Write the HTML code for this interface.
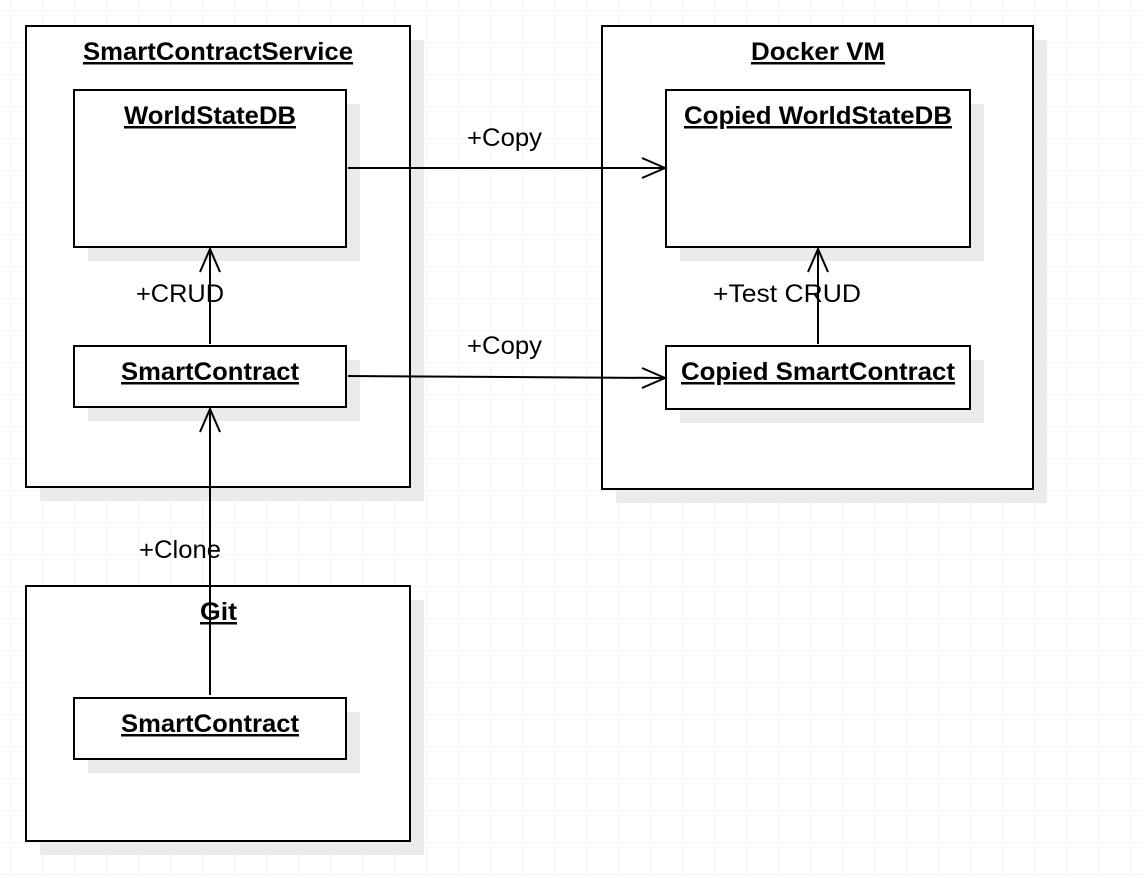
<!DOCTYPE html>
<html><head><meta charset="utf-8"><style>
html,body{margin:0;padding:0;background:#fff;}
svg{display:block;}
text{font-family:"Liberation Sans",sans-serif;font-size:25px;fill:#000;}
.t{font-weight:bold;text-decoration:underline;}
</style></head><body>
<svg width="1144" height="878" viewBox="0 0 1144 878" xmlns="http://www.w3.org/2000/svg">
<defs>
<pattern id="g" x="10" y="10" width="32" height="32" patternUnits="userSpaceOnUse">
<path d="M0 0H32M0 0V32" stroke="#ececec" stroke-width="1" fill="none"/>
</pattern>
</defs>
<rect width="1144" height="878" fill="url(#g)"/>
<g fill="#ebebeb">
<rect x="40" y="40" width="384" height="461"/>
<rect x="616" y="40" width="431" height="463"/>
<rect x="40" y="600" width="384" height="255"/>
</g>
<g fill="#fff" stroke="#000" stroke-width="2">
<rect x="26" y="26" width="384" height="461"/>
<rect x="602" y="26" width="431" height="463"/>
<rect x="26" y="586" width="384" height="255"/>
</g>
<g fill="#ebebeb">
<rect x="88" y="104" width="272" height="157"/>
<rect x="88" y="360" width="272" height="61"/>
<rect x="680" y="104" width="304" height="157"/>
<rect x="680" y="360" width="304" height="63"/>
<rect x="88" y="712" width="272" height="61"/>
</g>
<g fill="#fff" stroke="#000" stroke-width="2">
<rect x="74" y="90" width="272" height="157"/>
<rect x="74" y="346" width="272" height="61"/>
<rect x="666" y="90" width="304" height="157"/>
<rect x="666" y="346" width="304" height="63"/>
<rect x="74" y="698" width="272" height="61"/>
</g>
<g stroke="#000" stroke-width="2" fill="none">
<path d="M348 168H665M642 158L665 168L642 178"/>
<path d="M348 376L665 378M642 368L665 378L642 388"/>
<path d="M210 344V249M200 272L210 249L220 272"/>
<path d="M818 344V249M808 272L818 249L828 272"/>
<path d="M210 695V409M200 432L210 409L220 432"/>
</g>
<g lengthAdjust="spacingAndGlyphs">
<text class="t" x="83" y="60" textLength="270" lengthAdjust="spacingAndGlyphs">SmartContractService</text>
<text class="t" x="124" y="124" textLength="172" lengthAdjust="spacingAndGlyphs">WorldStateDB</text>
<text class="t" x="121" y="380" textLength="178" lengthAdjust="spacingAndGlyphs">SmartContract</text>
<text class="t" x="751" y="60" textLength="134" lengthAdjust="spacingAndGlyphs">Docker VM</text>
<text class="t" x="684" y="124" textLength="268" lengthAdjust="spacingAndGlyphs">Copied WorldStateDB</text>
<text class="t" x="681" y="380" textLength="274" lengthAdjust="spacingAndGlyphs">Copied SmartContract</text>
<text class="t" x="200" y="620" textLength="37" lengthAdjust="spacingAndGlyphs">Git</text>
<text class="t" x="121" y="732" textLength="178" lengthAdjust="spacingAndGlyphs">SmartContract</text>
<text x="467" y="146" textLength="75" lengthAdjust="spacingAndGlyphs">+Copy</text>
<text x="467" y="354" textLength="75" lengthAdjust="spacingAndGlyphs">+Copy</text>
<text x="136" y="302" textLength="88" lengthAdjust="spacingAndGlyphs">+CRUD</text>
<text x="713" y="302" textLength="148" lengthAdjust="spacingAndGlyphs">+Test CRUD</text>
<text x="139" y="558" textLength="82" lengthAdjust="spacingAndGlyphs">+Clone</text>
</g>
</svg>
</body></html>
